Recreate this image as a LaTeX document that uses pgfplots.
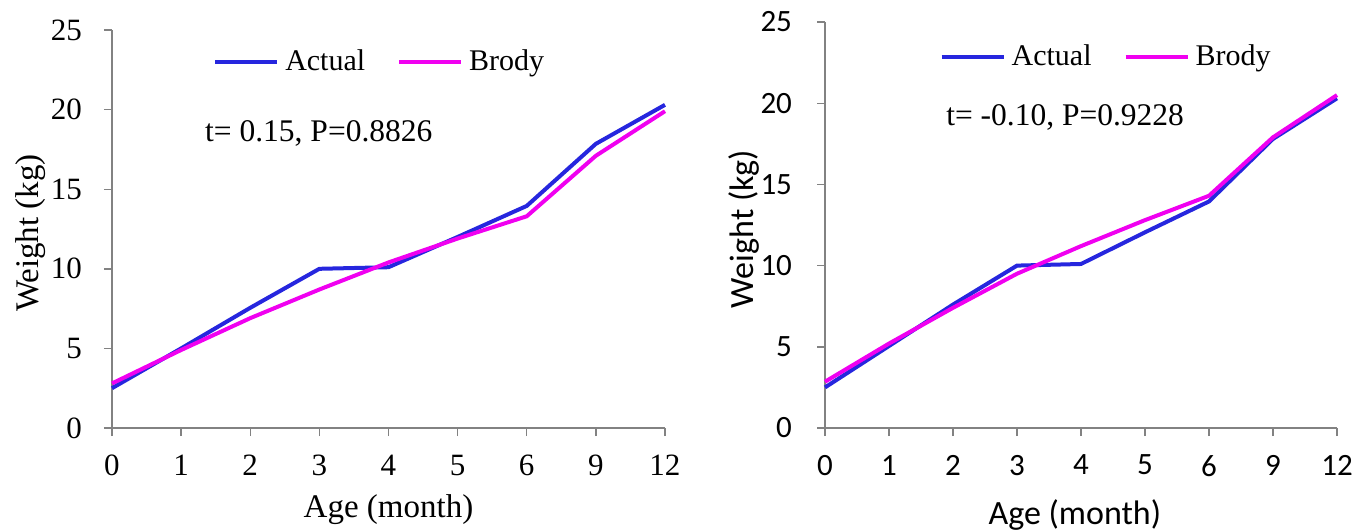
\documentclass[border=0pt]{standalone}
\usepackage{fontspec}
\setmainfont{Liberation Serif}
\newfontfamily\calfont{Carlito}
\usepackage{pgfplots}
\pgfplotsset{compat=1.18}
\definecolor{actblue}{RGB}{38,38,222}
\definecolor{brodymag}{RGB}{240,0,240}
\definecolor{axgray}{RGB}{130,130,130}

\pgfplotsset{
  growth/.style={
    scale only axis,
    xmin=0, xmax=8, ymin=0, ymax=25,
    xtick={0,...,8}, xticklabels={0,1,2,3,4,5,6,9,12},
    ytick={0,5,...,25},
    axis x line*=bottom, axis y line*=left,
    axis line style={-, axgray, line width=0.7pt},
    tick style={axgray, line width=0.7pt},
    tick align=outside, major tick length=4pt,
    /pgf/number format/assume math mode=true,
    legend columns=2,
    legend image code/.code={\draw[#1] (0pt,0pt) -- (31pt,0pt);},
    legend style={draw=none, fill=none, font=\fontsize{15}{17}\selectfont,
      /tikz/every even column/.append style={column sep=14pt},
      /tikz/every odd column/.append style={column sep=1pt}},
    clip=false,
  },
}

\begin{document}
\begin{tikzpicture}
\useasboundingbox (0,0) rectangle (684.5pt,265.5pt);
% left panel
\begin{axis}[growth,
  at={(56pt,51.5pt)}, anchor=south west,
  width=276.5pt, height=199pt,
  ticklabel style={font=\fontsize{15.5}{17}\selectfont},
  xticklabel style={yshift=-6pt},
  yticklabel style={xshift=-7.5pt},
  xlabel={Age (month)}, ylabel={Weight (kg)},
  label style={font=\fontsize{16.5}{18}\selectfont},
  xlabel style={at={(axis description cs:0.5,-0.206)}, anchor=center},
  ylabel style={at={(axis description cs:-0.148,0.49)}, anchor=center},
  legend style={at={(0.486,0.92)}, anchor=center},
]
\addplot[actblue, line width=2pt] coordinates
  {(0,2.5)(1,5.0)(2,7.55)(3,10.0)(4,10.1)(5,12.0)(6,13.95)(7,17.85)(8,20.3)};
\addplot[brodymag, line width=2pt] coordinates
  {(0,2.8)(1,4.9)(2,6.9)(3,8.7)(4,10.4)(5,11.9)(6,13.3)(7,17.1)(8,19.9)};
\legend{Actual, Brody}
\node[font=\fontsize{15.75}{17}\selectfont] at (rel axis cs:0.374,0.74) {t= 0.15, P=0.8826};
\end{axis}
% right panel
\begin{axis}[growth,
  at={(412.5pt,51.5pt)}, anchor=south west,
  width=256pt, height=203pt,
  ticklabel style={font=\calfont\fontsize{15.5}{17}\selectfont},
  xticklabel style={yshift=-6pt},
  yticklabel style={xshift=-9pt},
  xlabel={Age (month)}, ylabel={Weight (kg)},
  label style={font=\calfont\fontsize{17}{19}\selectfont},
  xlabel style={at={(axis description cs:0.488,-0.214)}, anchor=center},
  ylabel style={at={(axis description cs:-0.158,0.49)}, anchor=center},
  legend style={at={(0.551,0.914)}, anchor=center},
]
\addplot[actblue, line width=2pt] coordinates
  {(0,2.5)(1,5.05)(2,7.6)(3,10.0)(4,10.1)(5,12.05)(6,13.95)(7,17.8)(8,20.3)};
\addplot[brodymag, line width=2pt] coordinates
  {(0,2.85)(1,5.2)(2,7.4)(3,9.5)(4,11.2)(5,12.8)(6,14.3)(7,17.9)(8,20.5)};
\legend{Actual, Brody}
\node[font=\fontsize{15.75}{17}\selectfont] at (rel axis cs:0.469,0.766) {t= -0.10, P=0.9228};
\end{axis}
\end{tikzpicture}
\end{document}
